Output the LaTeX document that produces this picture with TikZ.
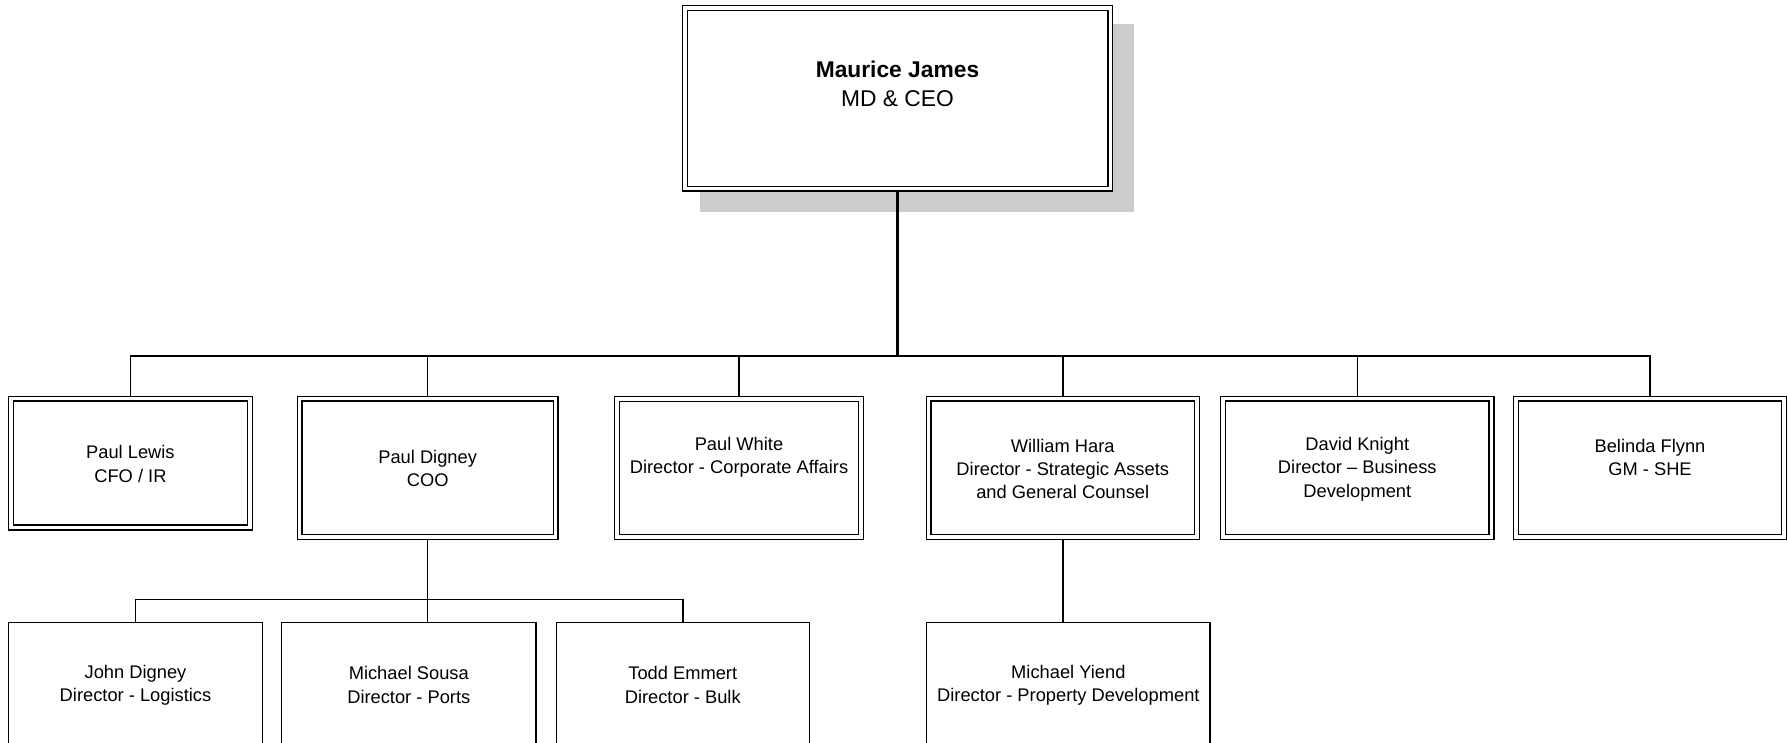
\documentclass[tikz,border=0pt]{standalone}
\usepackage{fontspec}
\setmainfont{Liberation Sans}
\usetikzlibrary{backgrounds}
\begin{document}
\begin{tikzpicture}[x=1pt,y=-1pt,
  dbox/.style={draw, double, double distance=3.4pt, line width=1.4pt,
               inner sep=0pt, outer sep=0pt, fill=white},
  sbox/.style={draw, line width=1.4pt, inner sep=0pt, outer sep=0pt, fill=white},
  lvl/.style={align=center, inner sep=0pt, font=\fontsize{18.3}{23.4}\selectfont},
  top/.style={align=center, inner sep=0pt, font=\fontsize{22.8}{29.6}\selectfont},
  link/.style={line width=1.6pt},
  trunk/.style={line width=2.2pt}]
\useasboundingbox (0,0) rectangle (1788,742);
\clip (0,0) rectangle (1788,742);

% chief executive
\node[dbox, minimum width=425.4pt, minimum height=180.8pt] (ceo) at (897.5,98.2) {};
\node[top] (ceo-t) at (897.5,84) {\textbf{Maurice James}\\MD \& CEO};

% direct reports
\node[dbox, minimum width=239.1pt, minimum height=128.8pt] (lewis)  at (130.4,463) {};
\node[dbox, minimum width=255.9pt, minimum height=138.3pt] (digney) at (427.65,467.75) {};
\node[dbox, minimum width=243.8pt, minimum height=138.1pt] (white)  at (739,467.85) {};
\node[dbox, minimum width=268.3pt, minimum height=138.3pt] (hara)   at (1062.75,467.75) {};
\node[dbox, minimum width=268.4pt, minimum height=138.3pt] (knight) at (1357.3,467.75) {};
\node[dbox, minimum width=267.8pt, minimum height=138.3pt] (flynn)  at (1650,467.75) {};

\node[lvl] (lewis-t)  at (130.4,464)  {Paul Lewis\\CFO / IR};
\node[lvl] (digney-t) at (427.65,468.5) {Paul Digney\\COO};
\node[lvl] (white-t)  at (739,457.5)  {Paul White\\Director - Corporate Affairs};
\node[lvl] (hara-t)   at (1062.75,469) {William Hara\\Director - Strategic Assets\\and General Counsel};
\node[lvl] (knight-t) at (1357.3,469) {David Knight\\Director -- Business\\Development};
\node[lvl] (flynn-t)  at (1650,457.5) {Belinda Flynn\\GM - SHE};

% second level below
\node[sbox, minimum width=253.6pt, minimum height=167.6pt] (john)  at (135.5,706.2) {};
\node[sbox, minimum width=254.2pt, minimum height=167.6pt] (sousa) at (408.8,706.2) {};
\node[sbox, minimum width=253.1pt, minimum height=167.6pt] (todd)  at (682.75,706.2) {};
\node[sbox, minimum width=283.3pt, minimum height=167.6pt] (yiend) at (1068.35,706.2) {};

\node[lvl] (john-t)  at (135.5,685)   {John Digney\\Director - Logistics};
\node[lvl] (sousa-t) at (408.8,685)   {Michael Sousa\\Director - Ports};
\node[lvl] (todd-t)  at (682.75,685)  {Todd Emmert\\Director - Bulk};
\node[lvl] (yiend-t) at (1068.35,685) {Michael Yiend\\Director - Property Development};

\coordinate (bus) at (0,356);
\coordinate (subbus) at (0,599.5);

\begin{scope}[on background layer]
  \fill[white] (0,0) rectangle (1788,742);
  % drop shadow of the top box
  \fill[black!20] (700,24) rectangle (1134,212);
  \draw[trunk] (ceo.south) -- (ceo.south |- bus);
  \draw[trunk] (flynn.north) |- (ceo.south |- bus);
  \draw[link] (lewis.north) |- (ceo.south |- bus);
  \draw[link] (digney.north) -- (digney.north |- bus);
  \draw[link] (white.north) -- (white.north |- bus);
  \draw[link] (hara.north) -- (hara.north |- bus);
  \draw[link] (knight.north) -- (knight.north |- bus);
  \draw[link] (digney.south) -- (digney.south |- sousa.north);
  \draw[link] (john.north) |- (digney.south |- subbus);
  \draw[link] (todd.north) |- (digney.south |- subbus);
  \draw[link] (hara.south) -- (hara.south |- yiend.north);
\end{scope}
\end{tikzpicture}
\end{document}
